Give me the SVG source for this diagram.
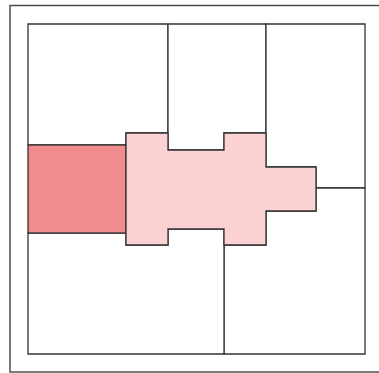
<svg xmlns="http://www.w3.org/2000/svg" width="379" height="373" viewBox="0 0 379 373">
<style>
.frame{fill:#fff;stroke:#444;stroke-width:1.4}
.cell{fill:#fff;stroke:#333;stroke-width:1.3}
.hi{fill:#F08C8E;stroke:#333;stroke-width:1.3}
.lt{fill:#FAD2D4;stroke:#333;stroke-width:1.3}
</style>
<rect width="379" height="373" fill="#fff"/>
<rect class="frame" x="10" y="5.5" width="380" height="366.5"/>
<g id="cells">
<g id="top-left"><path class="cell" d="M28,24 H168 V133 H126 V145 H28 Z"/></g>
<g id="top-mid"><path class="cell" d="M168,24 H266 V133 H224 V150 H168 Z"/></g>
<g id="top-right"><path class="cell" d="M266,24 H365 V188 H316 V167 H266 Z"/></g>
<g id="bottom-right"><path class="cell" d="M316,188 H365 V354 H224 V245 H266 V211 H316 Z"/></g>
<g id="bottom-left"><path class="cell" d="M28,233 H126 V245 H168 V229 H224 V354 H28 Z"/></g>
<g id="left-red"><rect class="hi" x="28" y="145" width="98" height="88"/></g>
<g id="pink"><path class="lt" d="M126,133 H168 V150 H224 V133 H266 V167 H316 V211 H266 V245 H224 V229 H168 V245 H126 Z"/></g>
</g>
</svg>
